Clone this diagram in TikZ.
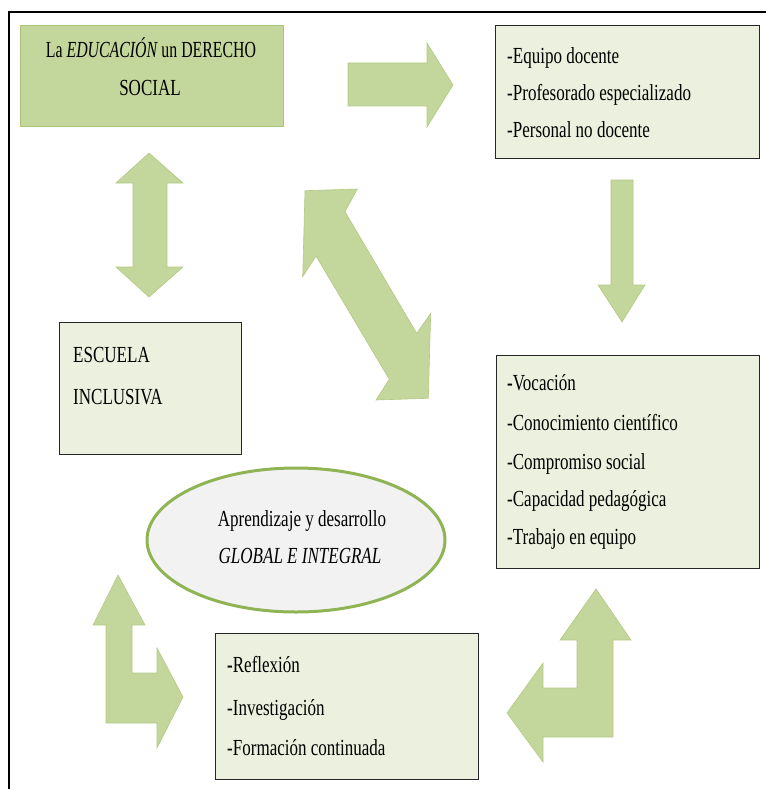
\documentclass[tikz,border=0pt]{standalone}
\usepackage{fontspec}
\setmainfont{Liberation Serif}[FakeStretch=0.74]
\usetikzlibrary{shapes.geometric}
\definecolor{arrowgreen}{HTML}{C3D69B}
\definecolor{arrowedge}{HTML}{B2CA85}
\definecolor{boxpale}{HTML}{EBF1DE}
\definecolor{boxgreen}{HTML}{C3D69B}
\definecolor{boxgreenedge}{HTML}{A8C47C}
\definecolor{ellgreen}{HTML}{8EB454}
\definecolor{ellfill}{HTML}{F2F2F2}
\begin{document}
\begin{tikzpicture}[x=1pt,y=-1pt,
  blockarrow/.style={fill=arrowgreen, draw=arrowedge, line width=0.6pt, line join=miter},
  palebox/.style={draw=black!85, line width=1.1pt, fill=boxpale, inner sep=0pt, anchor=north west},
  greenbox/.style={draw=boxgreenedge, line width=1pt, fill=boxgreen, inner sep=0pt, anchor=north west},
  txt/.style={font=\fontsize{23}{23}\selectfont, inner sep=0pt, text height=15pt, text depth=5pt},
  lline/.style={txt, anchor=west},
  cline/.style={txt, anchor=center},
  frame/.style={draw=black, line width=2pt}]
\useasboundingbox (0,0) rectangle (766,789);

% outer frame (top and left sides)
\coordinate (frameTL) at (9,12);
\coordinate (frameTR) at (766,12);
\coordinate (frameBL) at (9,789);
\draw[frame] (frameTR) -- (frameTL) -- (frameBL);

% boxes
\node[greenbox, minimum width=263pt, minimum height=101pt] (derecho) at (20,25) {};
\node[palebox, minimum width=264pt, minimum height=133pt] (personal) at (495,25) {};
\node[palebox, minimum width=182pt, minimum height=132pt] (escuela) at (59,322) {};
\node[palebox, minimum width=263pt, minimum height=213pt] (perfil) at (496,355) {};
\node[palebox, minimum width=263pt, minimum height=146pt] (practica) at (215,633) {};
\node[ellipse, draw=ellgreen, line width=3pt, fill=ellfill,
      minimum width=298pt, minimum height=144pt, inner sep=0pt] (aprendizaje) at (296,540) {};

% texts
\node[cline] (derechoA) at (151,53) {\scalebox{0.93}[1]{La \textit{EDUCACIÓN}\,un DERECHO}};
\node[cline] (derechoB) at (150,91) {SOCIAL};

\node[lline] (personalA) at (507,59) {-Equipo docente};
\node[lline] (personalB) at (507,96) {-Profesorado especializado};
\node[lline] (personalC) at (507,133) {-Personal no docente};

\node[lline] (escuelaA) at (73,357) {ESCUELA};
\node[lline] (escuelaB) at (73,399) {INCLUSIVA};

\node[lline] (perfilA) at (507,385) {\textbf{-}Vocación};
\node[lline] (perfilB) at (507,425) {-Conocimiento científico};
\node[lline] (perfilC) at (507,464) {-Compromiso social};
\node[lline] (perfilD) at (507,501) {-Capacidad pedagógica};
\node[lline] (perfilE) at (507,539) {-Trabajo en equipo};

\node[lline] (practicaA) at (227,667) {\textbf{-}Reflexión};
\node[lline] (practicaB) at (227,710) {-Investigación};
\node[lline] (practicaC) at (227,750) {-Formación continuada};

\node[cline] (aprendizajeA) at (302,521) {Aprendizaje y desarrollo};
\node[cline] (aprendizajeB) at (300,558) {\textit{GLOBAL E INTEGRAL}};

% block arrows
% right arrow between the top boxes
\draw[blockarrow] (348,63) -- (427,63) -- (427,43) -- (453,85) -- (427,127)
  -- (427,106) -- (348,106) -- cycle;
% vertical double arrow on the left
\draw[blockarrow] (149,153) -- (183,183) -- (167,183) -- (167,267) -- (183,267)
  -- (149,297) -- (116,267) -- (133,267) -- (133,183) -- (116,183) -- cycle;
% down arrow on the right
\draw[blockarrow] (611,180) -- (633,180) -- (633,285) -- (645,285) -- (622,322)
  -- (598,285) -- (611,285) -- cycle;
% diagonal double arrow in the centre
\draw[blockarrow] (305,190.7) -- (357.3,189) -- (345,211.7) -- (416.7,333.3)
  -- (430.7,313.3) -- (428.3,398.3) -- (376,400) -- (389.3,379.3)
  -- (316,256) -- (302.7,276.7) -- cycle;
% bent arrow bottom left (up and right)
\draw[blockarrow] (118,575) -- (145,625) -- (132,625) -- (132,673) -- (157,673)
  -- (157,648) -- (183,697) -- (157,748) -- (157,723) -- (106,723) -- (106,625)
  -- (93,625) -- cycle;
% bent arrow bottom right (up and left)
\draw[blockarrow] (596,589) -- (631,640) -- (613,640) -- (613,737) -- (543,737)
  -- (543,762) -- (507,713) -- (543,663) -- (543,688) -- (577,688) -- (577,640)
  -- (560,640) -- cycle;
\end{tikzpicture}
\end{document}
